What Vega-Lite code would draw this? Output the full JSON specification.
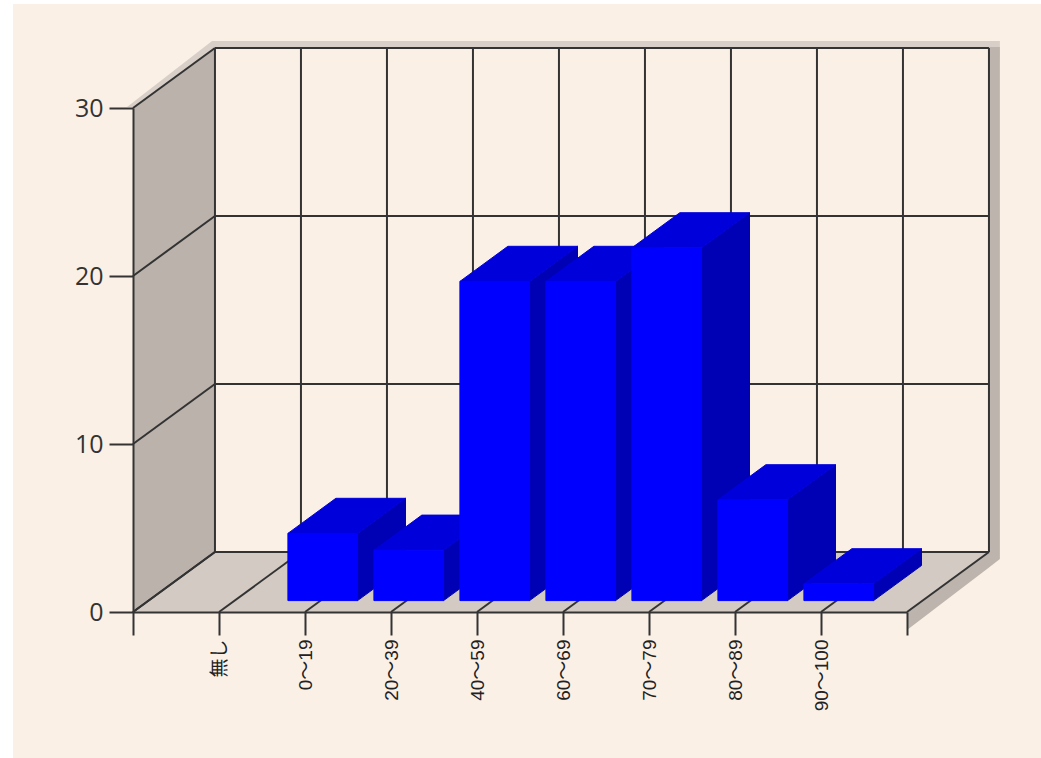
{"$schema":"https://vega.github.io/schema/vega-lite/v6.json","width":774,"height":504,"autosize":"none","padding":{"left":133,"top":108,"right":134,"bottom":146},"background":"#ffffff","config":{"view":{"stroke":null}},
"datasets":{
"scores":[{"category":"無し","value":0},{"category":"0～19","value":4},{"category":"20～39","value":3},{"category":"40～59","value":19},{"category":"60～69","value":19},{"category":"70～79","value":21},{"category":"80～89","value":6},{"category":"90～100","value":1}],
"ticks":[{"t":0},{"t":1},{"t":2},{"t":3},{"t":4},{"t":5},{"t":6},{"t":7},{"t":8},{"t":9}],
"levels":[{"v":0},{"v":10},{"v":20},{"v":30}]},
"encoding":{
"x":{"field":"x","type":"quantitative","title":null,"scale":{"domain":[0,9],"nice":false,"zero":false},"axis":{"grid":false,"values":[0,1,2,3,4,5,6,7,8,9],"labelExpr":"['','無し','0～19','20～39','40～59','60～69','70～79','80～89','90～100',''][datum.value]","labelAngle":270,"labelAlign":"right","labelBaseline":"middle","labelFont":"Liberation Sans, Noto Sans CJK JP","labelFontSize":19,"labelColor":"#222222","labelPadding":4,"labelOverlap":false,"labelBound":false,"labelFlush":false,"tickSize":23,"tickWidth":2,"tickColor":"#333333","domainColor":"#333333","domainWidth":2,"zindex":1}},
"y":{"field":"y","type":"quantitative","title":null,"scale":{"domain":[0,30],"nice":false,"zero":false},"axis":{"grid":false,"values":[0,10,20,30],"labelFont":"Open Sans","labelFontSize":25,"labelColor":"#333333","labelPadding":6,"labelOverlap":false,"labelBound":false,"labelFlush":false,"tickSize":24,"tickWidth":2,"tickColor":"#333333","domainColor":"#333333","domainWidth":2,"zindex":1}}},
"layer":[
{"data":{"values":[{"x":-1.395,"x2":10.56,"y":36.19,"y2":-8.69}]},"mark":{"type":"rect","color":"#FAF0E6","clip":false},"encoding":{"x2":{"field":"x2"},"y2":{"field":"y2"}}},
{"data":{"values":[{"x":-0.07,"y":30.06,"y2":30.06},{"x":0.919,"y":33.99,"y2":30.06},{"x":9.953,"y":33.99,"y2":18.57},{"x":10.08,"y":33.99,"y2":33.63}]},"mark":{"type":"area","color":"#D8D0C8","opacity":1},"encoding":{"y2":{"field":"y2"}}},
{"data":{"values":[{"x":9,"y":0,"y2":-1.07},{"x":9.953,"y":33.63,"y2":2.65},{"x":10.08,"y":33.63,"y2":3.155}]},"mark":{"type":"area","color":"#BDB5AD","opacity":1},"encoding":{"y2":{"field":"y2"}}},
{"data":{"values":[{"x":0.953,"x2":9.953,"y":3.571,"y2":33.571}]},"mark":{"type":"rect","color":"#FAF0E6","opacity":1},"encoding":{"x2":{"field":"x2"},"y2":{"field":"y2"}}},
{"data":{"values":[{"x":0,"y":0,"y2":30},{"x":0.953,"y":3.571,"y2":33.571}]},"mark":{"type":"area","color":"#BAB2AB","opacity":1},"encoding":{"y2":{"field":"y2"}}},
{"data":{"values":[{"y":0,"x":0,"x2":9},{"y":3.571,"x":0.953,"x2":9.953}]},"mark":{"type":"area","orient":"horizontal","color":"#D3CBC3","opacity":1},"encoding":{"x2":{"field":"x2"}}},
{"data":{"name":"ticks"},"transform":[{"calculate":"datum.t","as":"x"},{"calculate":"datum.t+0.953","as":"x2"},{"calculate":"0","as":"y"},{"calculate":"3.571","as":"y2"}],"mark":{"type":"rule","color":"#333333","strokeWidth":2},"encoding":{"x2":{"field":"x2"},"y2":{"field":"y2"}}},
{"data":{"name":"ticks"},"transform":[{"calculate":"datum.t+0.953","as":"x"},{"calculate":"3.571","as":"y"},{"calculate":"33.571","as":"y2"}],"mark":{"type":"rule","color":"#333333","strokeWidth":2},"encoding":{"y2":{"field":"y2"}}},
{"data":{"name":"levels"},"transform":[{"calculate":"0.953","as":"x"},{"calculate":"9.953","as":"x2"},{"calculate":"datum.v+3.571","as":"y"}],"mark":{"type":"rule","color":"#333333","strokeWidth":2},"encoding":{"x2":{"field":"x2"}}},
{"data":{"name":"levels"},"transform":[{"calculate":"0","as":"x"},{"calculate":"0.953","as":"x2"},{"calculate":"datum.v","as":"y"},{"calculate":"datum.v+3.571","as":"y2"}],"mark":{"type":"rule","color":"#333333","strokeWidth":2},"encoding":{"x2":{"field":"x2"},"y2":{"field":"y2"}}},
{"data":{"name":"scores"},"transform":[{"window":[{"op":"row_number","as":"idx"}]},{"filter":"datum.value>0"},{"calculate":"[0.19,0.775]","as":"depth"},{"flatten":["depth"]},{"calculate":"datum.idx+0.43+0.953*datum.depth","as":"x"},{"calculate":"datum.value+3.571*datum.depth","as":"y"},{"calculate":"3.571*datum.depth","as":"y2"}],"mark":{"type":"area","fill":"#0000B4","stroke":"#0000B4","strokeWidth":1,"opacity":1},"encoding":{"y2":{"field":"y2"},"detail":{"field":"category"}}},
{"data":{"name":"scores"},"transform":[{"window":[{"op":"row_number","as":"idx"}]},{"filter":"datum.value>0"},{"calculate":"[0.19,0.775]","as":"depth"},{"flatten":["depth"]},{"calculate":"datum.idx-0.38+0.953*datum.depth","as":"x"},{"calculate":"datum.idx+0.43+0.953*datum.depth","as":"x2"},{"calculate":"datum.value+3.571*datum.depth","as":"y"}],"mark":{"type":"area","orient":"horizontal","fill":"#0000DA","stroke":"#0000DA","strokeWidth":1,"opacity":1},"encoding":{"x2":{"field":"x2"},"detail":{"field":"category"}}},
{"data":{"name":"scores"},"transform":[{"window":[{"op":"row_number","as":"idx"}]},{"filter":"datum.value>0"},{"calculate":"datum.idx-0.38+0.953*0.19","as":"x"},{"calculate":"datum.idx+0.43+0.953*0.19","as":"x2"},{"calculate":"datum.value+3.571*0.19","as":"y"},{"calculate":"3.571*0.19","as":"y2"}],"mark":{"type":"rect","fill":"#0000FF","stroke":"#0000FF","strokeWidth":1,"opacity":1},"encoding":{"x2":{"field":"x2"},"y2":{"field":"y2"}}}
]}
